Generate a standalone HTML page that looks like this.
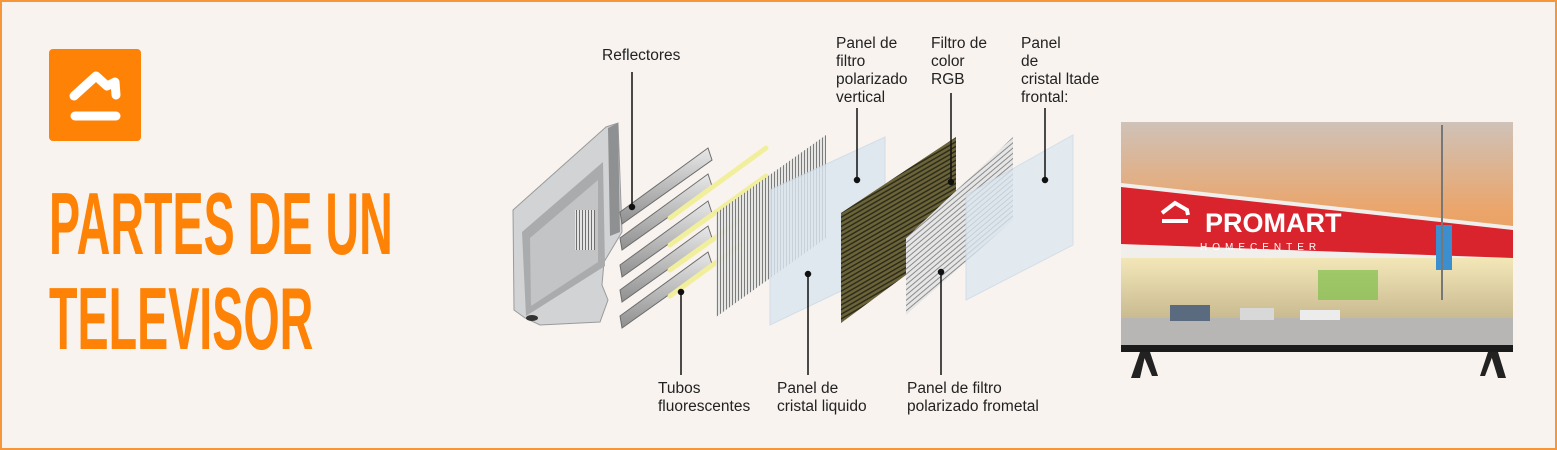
<!DOCTYPE html>
<html><head><meta charset="utf-8"><style>
html,body{margin:0;padding:0}
body{width:1557px;height:450px;overflow:hidden;background:#f8f3ef;font-family:"Liberation Sans",sans-serif}
.frame{position:absolute;left:0;top:0;width:1553px;height:446px;border:2px solid #f5963a;background:#f8f3ef}
.icon{position:absolute;left:49px;top:49px;width:92px;height:92px;background:#fd8205;border-radius:4px}
.title{position:absolute;left:49px;color:#fd8205;font-family:"Liberation Sans Narrow","Liberation Sans",sans-serif;font-weight:bold;font-size:88px;line-height:1;transform-origin:0 0;white-space:nowrap;letter-spacing:0px}
.lbl{position:absolute;font-size:15.5px;line-height:18px;color:#222;white-space:nowrap}
</style></head><body>
<div class="frame"></div>
<div class="icon"><svg width="92" height="92" viewBox="0 0 92 92"><path d="M25 47 L47 27 L58 37 L66 33 L67 46" fill="none" stroke="#fff" stroke-width="9" stroke-linecap="round" stroke-linejoin="round"/><line x1="26" y1="67" x2="67" y2="67" stroke="#fff" stroke-width="9" stroke-linecap="round"/></svg></div>
<div class="title" style="top:180px;transform:scaleX(0.53)">PARTES DE UN</div>
<div class="title" style="top:275px;transform:scaleX(0.53)">TELEVISOR</div>

<svg style="position:absolute;left:0;top:0" width="1557" height="450">
<defs>
<pattern id="vs" width="3" height="10" patternUnits="userSpaceOnUse"><rect width="3" height="10" fill="#e4e4e4"/><rect width="1" height="10" fill="#6f6f6f"/></pattern>
<pattern id="ds" width="4" height="4" patternUnits="userSpaceOnUse" patternTransform="rotate(60)"><rect width="4" height="4" fill="#6b6438"/><rect width="1.5" height="4" fill="#2e2c1c"/></pattern>
<pattern id="hs" width="10" height="4" patternUnits="userSpaceOnUse" patternTransform="rotate(-40)"><rect width="10" height="4" fill="#e6e6e6"/><rect width="10" height="1" fill="#8a8a8a"/></pattern>
<linearGradient id="tube" x1="0" y1="0" x2="0" y2="1"><stop offset="0" stop-color="#e8e8e8"/><stop offset="1" stop-color="#8f8f8f"/></linearGradient>
<linearGradient id="sky" x1="0" y1="0" x2="0" y2="1"><stop offset="0" stop-color="#cfc2b8"/><stop offset="0.4" stop-color="#eba56a"/><stop offset="1" stop-color="#ee8c40"/></linearGradient>
<linearGradient id="store" x1="0" y1="0" x2="0" y2="1"><stop offset="0" stop-color="#f3e7b8"/><stop offset="1" stop-color="#c8b98f"/></linearGradient>
</defs>
<!-- monitor -->
<polygon points="513,210 606,127 618,123 622,232 604,262 602,285 608,300 600,322 540,325 525,318 514,310" fill="#d2d3d5" stroke="#9a9a9c"/>
<polygon points="522,232 603,162 605,266 526,316" fill="#a9abad"/>
<polygon points="530,238 598,180 598,262 531,306" fill="#c3c4c6"/>
<rect x="575" y="210" width="20" height="40" fill="url(#vs)"/>
<polygon points="608,128 618,123 620,232 610,236" fill="#8f9092"/>
<ellipse cx="532" cy="318" rx="6" ry="3" fill="#333"/>
<!-- tubes -->
<g stroke="#6d6d6d" stroke-width="1">
<polygon points="620,212 708,148 712,160 622,224" fill="url(#tube)"/>
<polygon points="620,238 708,174 712,186 622,250" fill="url(#tube)"/>
<polygon points="620,265 708,201 712,213 622,277" fill="url(#tube)"/>
<polygon points="620,290 708,226 712,238 622,302" fill="url(#tube)"/>
<polygon points="620,316 708,252 712,264 622,328" fill="url(#tube)"/>
</g>
<g stroke="#f2ef9c" stroke-width="5" stroke-linecap="round">
<line x1="670" y1="218" x2="766" y2="148"/>
<line x1="670" y1="245" x2="766" y2="176"/>
<line x1="670" y1="270" x2="740" y2="220"/>
<line x1="670" y1="296" x2="740" y2="245"/>
</g>
<!-- panels -->
<polygon points="716,213 826,135 826,238 716,317" fill="url(#vs)" opacity="0.9"/>
<polygon points="770,190 885,137 885,270 770,325" fill="#dbe6f0" opacity="0.8" stroke="#c9d8e6"/>
<polygon points="841,213 956,137 956,238 841,323" fill="url(#ds)"/>
<polygon points="906,238 1013,137 1013,220 906,315" fill="url(#hs)"/>
<polygon points="966,195 1073,135 1073,245 966,300" fill="#dbe6f0" opacity="0.75" stroke="#c9d8e6"/>
<!-- leaders -->
<g stroke="#111" stroke-width="1.5" fill="#111">
<line x1="632" y1="72" x2="632" y2="207"/><circle cx="632" cy="207" r="2.5"/>
<line x1="857" y1="108" x2="857" y2="180"/><circle cx="857" cy="180" r="2.5"/>
<line x1="951" y1="93" x2="951" y2="182"/><circle cx="951" cy="182" r="2.5"/>
<line x1="1045" y1="108" x2="1045" y2="180"/><circle cx="1045" cy="180" r="2.5"/>
<line x1="681" y1="292" x2="681" y2="375"/><circle cx="681" cy="292" r="2.5"/>
<line x1="808" y1="274" x2="808" y2="375"/><circle cx="808" cy="274" r="2.5"/>
<line x1="941" y1="272" x2="941" y2="375"/><circle cx="941" cy="272" r="2.5"/>
</g>
<!-- TV -->
<rect x="1121" y="122" width="392" height="224" fill="url(#sky)"/>
<polygon points="1121,183 1513,226 1513,262 1121,262" fill="#f1efec"/>
<polygon points="1121,187 1513,230 1513,258 1121,244" fill="#d9242e"/>
<rect x="1121" y="258" width="392" height="62" fill="url(#store)"/>
<rect x="1318" y="270" width="60" height="30" fill="#7fc04a" opacity="0.7"/>
<rect x="1121" y="318" width="392" height="28" fill="#b8b6b4"/>
<rect x="1170" y="305" width="40" height="16" fill="#5a6b7f"/><rect x="1240" y="308" width="34" height="12" fill="#d8d8d8"/><rect x="1300" y="310" width="40" height="10" fill="#ececec"/>
<rect x="1436" y="225" width="16" height="45" fill="#3c8fcf"/>
<line x1="1442" y1="125" x2="1442" y2="300" stroke="#777" stroke-width="2"/>
<text x="1205" y="232" font-family="Liberation Sans" font-weight="bold" font-size="27" fill="#fff">PROMART</text>
<text x="1200" y="250" font-family="Liberation Sans" font-size="10" letter-spacing="5" fill="#fff">HOMECENTER</text>
<path d="M1162 213 L1175 203 L1187 210 L1188 215 M1162 221 L1188 221" stroke="#fff" stroke-width="4" fill="none"/>
<rect x="1121" y="345" width="392" height="7" fill="#1b1b1b"/>
<polygon points="1140,352 1146,352 1140,378 1131,378" fill="#222"/><polygon points="1142,352 1150,352 1158,376 1152,376" fill="#222"/>
<polygon points="1488,352 1494,352 1485,376 1480,376" fill="#222"/><polygon points="1490,352 1498,352 1506,378 1498,378" fill="#222"/>
</svg>

<div class="lbl" style="left:602px;top:47px">Reflectores</div>
<div class="lbl" style="left:836px;top:35px">Panel de<br>filtro<br>polarizado<br>vertical</div>
<div class="lbl" style="left:931px;top:35px">Filtro de<br>color<br>RGB</div>
<div class="lbl" style="left:1021px;top:35px">Panel<br>de<br>cristal ltade<br>frontal:</div>
<div class="lbl" style="left:658px;top:380px">Tubos<br>fluorescentes</div>
<div class="lbl" style="left:777px;top:380px">Panel de<br>cristal liquido</div>
<div class="lbl" style="left:907px;top:380px">Panel de filtro<br>polarizado frometal</div>
</body></html>
